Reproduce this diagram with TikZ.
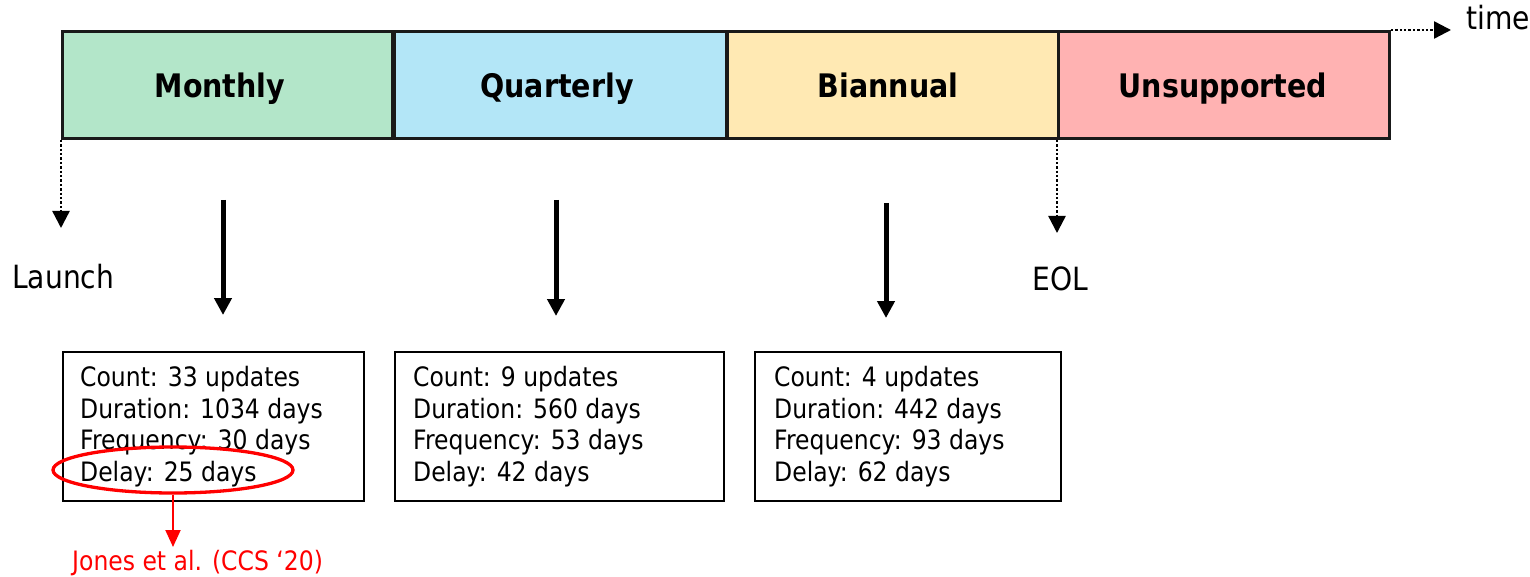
\documentclass[tikz,border=0pt]{standalone}
\usepackage{fontspec}
\setmainfont{DejaVu Sans}[FakeStretch=0.88]
\usetikzlibrary{arrows.meta,shapes.geometric}
\definecolor{cmonth}{RGB}{179,230,201}
\definecolor{cquart}{RGB}{179,230,247}
\definecolor{cbian}{RGB}{255,233,179}
\definecolor{cunsup}{RGB}{255,178,178}
\definecolor{cred}{RGB}{255,0,0}
\tikzset{
  phase/.style={draw=black!90, line width=2.8pt, minimum height=107pt, inner sep=0pt, anchor=north west},
  phaselabel/.style={font=\fontsize{32.4}{36}\selectfont\bfseries, anchor=base, inner sep=0pt},
  infobox/.style={draw=black, line width=1.8pt, minimum height=149pt, inner sep=0pt, anchor=north west},
  infoline/.style={font=\fontsize{26.7}{30}\selectfont, anchor=base west, inner sep=0pt},
  biglabel/.style={font=\fontsize{32}{36}\selectfont, anchor=base west, inner sep=0pt},
  dotarrow/.style={line width=2.4pt, dash pattern=on 2.4pt off 2pt, -{Triangle[width=17pt,length=17pt]}},
  thickarrow/.style={line width=5pt, -{Triangle[width=17pt,length=17pt]}},
  redarrow/.style={draw=cred, fill=cred, line width=2pt, -{Triangle[width=15pt,length=17pt]}}
}
\begin{document}
\begin{tikzpicture}[x=1pt,y=-1pt]
\useasboundingbox (0,0) rectangle (1530,577);
% phase bar
\node[phase, fill=cmonth, minimum width=330pt] (mon) at (61,30) {};
\node[phase, fill=cquart, minimum width=332pt] (qua) at (393,30) {};
\node[phase, fill=cbian, minimum width=331pt] (bia) at (726,30) {};
\node[phase, fill=cunsup, minimum width=331pt] (uns) at (1057,30) {};
\node[phaselabel] (lmon) at (220,98) {Monthly};
\node[phaselabel] (lqua) at (557,98) {Quarterly};
\node[phaselabel] (lbia) at (888,98) {Biannual};
\node[phaselabel] (luns) at (1223,98) {Unsupported};
% time
\coordinate (tend) at (1451,30);
\draw[dotarrow] (uns.north east) -- (tend);
\node[biglabel] (time) at (1466,30) {time};
% launch / EOL
\coordinate (lend) at (61,228);
\draw[dotarrow] (mon.south west) -- (lend);
\node[biglabel] (launch) at (12,288) {Launch};
\coordinate (eend) at (1057,233);
\draw[dotarrow] (uns.south west) -- (eend);
\node[biglabel] (eol) at (1032,290) {EOL};
% thick arrows
\coordinate (a1s) at (223,200); \coordinate (a1e) at (223,315);
\coordinate (a2s) at (556,200); \coordinate (a2e) at (556,316);
\coordinate (a3s) at (886,203); \coordinate (a3e) at (886,318);
\draw[thickarrow] (a1s) -- (a1e);
\draw[thickarrow] (a2s) -- (a2e);
\draw[thickarrow] (a3s) -- (a3e);
% info boxes
\node[infobox, minimum width=301pt] (b1) at (62,351) {};
\node[infobox, minimum width=329pt] (b2) at (394,351) {};
\node[infobox, minimum width=306pt] (b3) at (754,351) {};
\node[infoline] (b1l1) at (80,386) {Count: 33 updates};
\node[infoline] (b1l2) at (80,418) {Duration: 1034 days};
\node[infoline] (b1l3) at (80,449) {Frequency: 30 days};
\node[infoline] (b1l4) at (80,481) {Delay: 25 days};
\node[infoline] (b2l1) at (413,386) {Count: 9 updates};
\node[infoline] (b2l2) at (413,418) {Duration: 560 days};
\node[infoline] (b2l3) at (413,449) {Frequency: 53 days};
\node[infoline] (b2l4) at (413,481) {Delay: 42 days};
\node[infoline] (b3l1) at (774,386) {Count: 4 updates};
\node[infoline] (b3l2) at (774,418) {Duration: 442 days};
\node[infoline] (b3l3) at (774,449) {Frequency: 93 days};
\node[infoline] (b3l4) at (774,481) {Delay: 62 days};
% red annotation
\node[ellipse, draw=cred, line width=3.3pt, minimum width=240pt, minimum height=46pt, inner sep=0pt] (ell) at (173,470) {};
\node[infoline, text=cred] (jones) at (72,570) {Jones et al. (CCS ‘20)};
\coordinate (rend) at (173,547);
\draw[redarrow] (ell.south) -- (rend);
\end{tikzpicture}
\end{document}
